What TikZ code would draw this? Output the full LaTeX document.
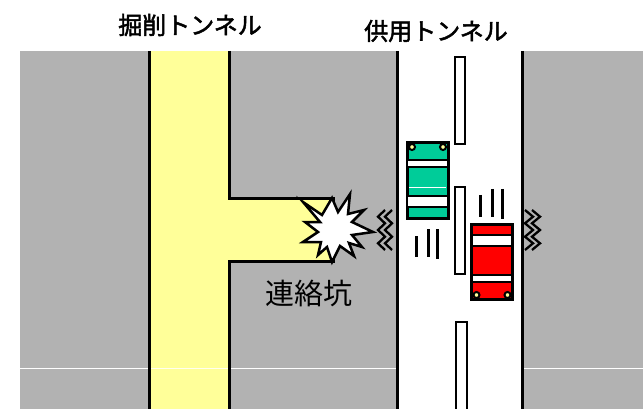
\documentclass[tikz,border=0pt]{standalone}
\usepackage{fontspec}
\usepackage{tikz}
\newfontfamily\jpfont{Noto Sans CJK JP}
\newfontfamily\jpheadfont[FakeBold=2]{Noto Sans CJK JP}

\definecolor{ground}{HTML}{B2B2B2}
\definecolor{dug}{HTML}{FFFF99}
\definecolor{carA}{HTML}{00CC99}
\definecolor{carB}{HTML}{FF0000}

% one car, 41 x 75, lamps at the front (top)
\newcommand{\vehicle}[4]{
	\begin{scope}[shift={(#1,#2)}, rotate around={#3:(20.5,37.5)}]
		\draw [line width=3, fill=#4] (0,0) rectangle (41,75);
		\draw [line width=2.5, fill=white] (0,17) rectangle (41,24);
		\draw [line width=2.5, fill=white] (0,53) rectangle (41,64);
		\draw [line width=2, fill=dug] (5,4) circle (3);
		\draw [line width=2, fill=dug] (36,4) circle (3);
	\end{scope}
}

\begin{document}
\begin{tikzpicture}[x=1pt,y=-1pt]
				\useasboundingbox (0,0) rectangle (643,409);
				\fill [ground] (20,51) rectangle (643,409);
				\draw [white, line width=1] (20,368) -- (643,368);

				% excavated tunnel and cross passage
				\fill [dug] (149.5,51) rectangle (229,409);
				\fill [dug] (229,199) rectangle (333,261);
				\draw [white!85!dug, line width=1] (149.5,368) -- (229,368);
				\draw [line width=3] (149.5,51) -- (149.5,409);
				\draw [line width=3] (229,51) -- (229,199) -- (333,199) -- (333,261) -- (229,261) -- (229,409);

				% road in service
				\fill [white] (397,51) rectangle (522,409);
				\draw [line width=3] (397,51) -- (397,409);
				\draw [line width=3] (522,51) -- (522,409);

				\draw [line width=2, fill=white] (455,57) rectangle (465,144);
				\draw [line width=2, fill=white] (455,187) rectangle (465,274);
				\draw [line width=2, fill=white] (456,322) rectangle (467,412);

				% blast
				\draw [line width=2.5, fill=white, line join=miter] (303,202) -- (322,215) -- (332,198) -- (338,212) -- (350,194) -- (348,214) -- (364,210) -- (352,222) -- (373,232) -- (352,235) -- (362,247) -- (349,243) -- (354,256) -- (340,246) -- (332,262) -- (327,247) -- (318,255) -- (321,242) -- (303,242) -- (318,232) -- (305,222) -- (320,222) -- cycle;

				% shaking of the walls
				\foreach \x in {378, 385}
				{
					\draw [line width=2.3] (\x+7,210) -- (\x,216.7) -- (\x+7,223.3) -- (\x,230) -- (\x+7,236.7) -- (\x,243.3) -- (\x+7,250);
				}
				\foreach \x in {525, 532}
				{
					\draw [line width=2.3] (\x,210) -- (\x+8,216.7) -- (\x,223.3) -- (\x+8,230) -- (\x,236.7) -- (\x+8,243.3) -- (\x,250);
				}

				\vehicle{407}{143}{0}{carA}
				\draw [white, line width=1] (409,188) -- (446,188);
				\vehicle{471.5}{224}{180}{carB}

				\draw [line width=3] (416,236) -- (416,257);
				\draw [line width=3] (428,229) -- (428,257);
				\draw [line width=3] (437,229) -- (437,259);
				\draw [line width=3] (480,195) -- (480,217);
				\draw [line width=3] (492,189) -- (492,217);
				\draw [line width=3] (502,189) -- (502,219);

				\node (exc) at (190,25) {\jpheadfont\fontsize{24}{24}\selectfont 掘削トンネル};
				\node (svc) at (436,31) {\jpheadfont\fontsize{24}{24}\selectfont 供用トンネル};
				\node (pas) at (309,294) {\jpfont\fontsize{29}{29}\selectfont 連絡坑};
		\end{tikzpicture}
\end{document}
